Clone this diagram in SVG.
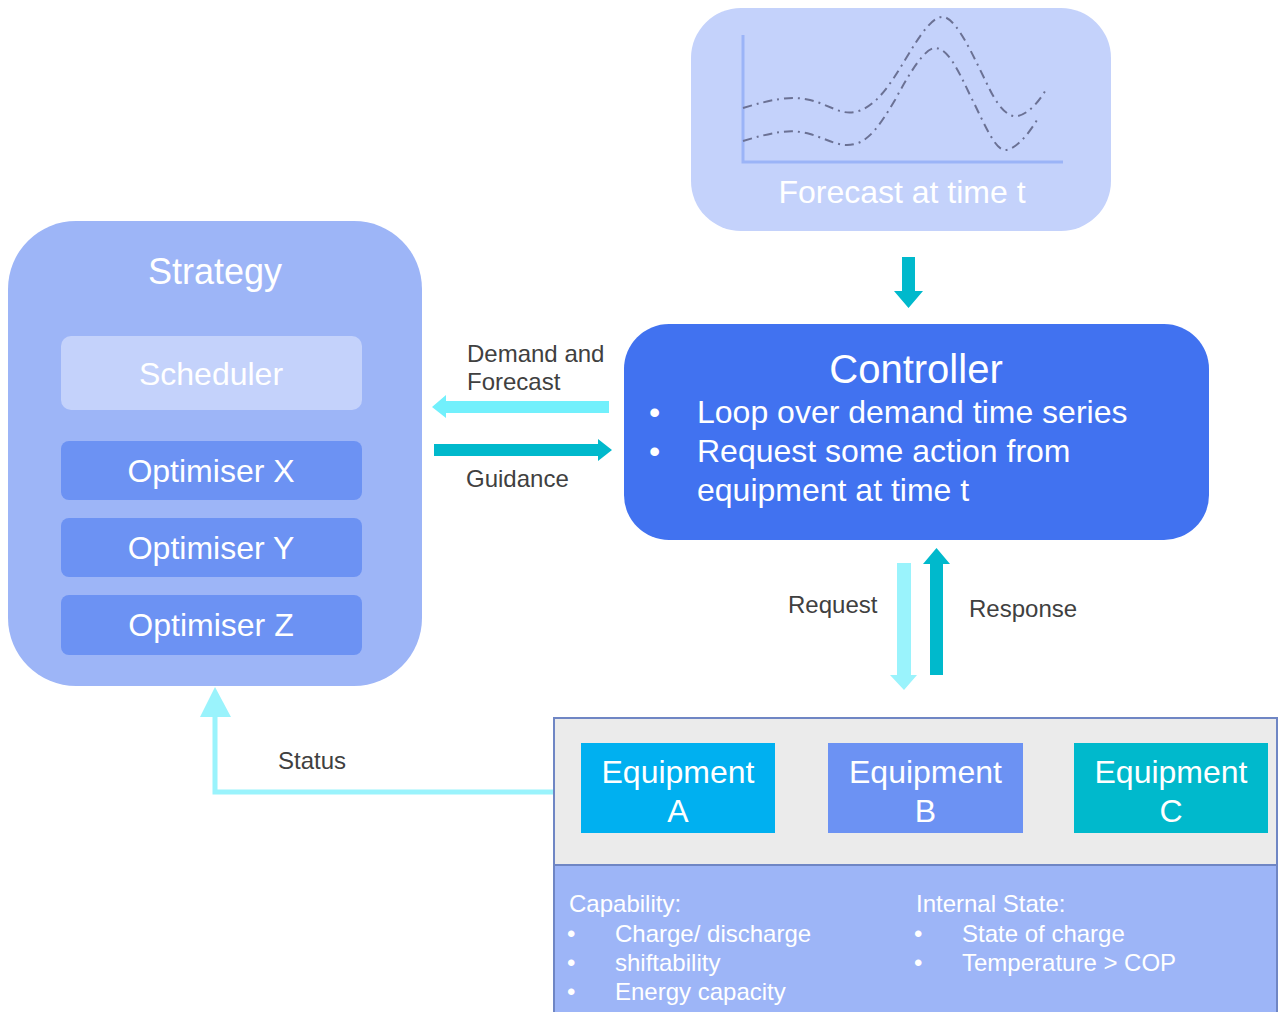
<svg xmlns="http://www.w3.org/2000/svg" width="1278" height="1012" viewBox="0 0 1278 1012">
<style>
text{font-family:"Liberation Sans",Arial,sans-serif}
.w{fill:#ffffff}
.lbl{fill:#404040;font-size:24px}
.c{text-anchor:middle}
.opt{fill:#6c92f3}
.curve{fill:none;stroke:#6b7194;stroke-width:2;stroke-dasharray:9 5 2 5}
</style>
<rect width="1278" height="1012" fill="#ffffff"/>
<g id="forecast">
<rect x="691" y="8" width="420" height="223" rx="50" fill="#c4d2fb"/>
<path d="M743,35 V162 H1063" fill="none" stroke="#9bb4f7" stroke-width="3"/>
<path class="curve" d="M743,108 C770,100 790,95 810,100 S840,115 855,112 C875,108 890,85 905,60 C920,35 933,15 944,17 C958,20 975,60 990,90 C1000,110 1010,118 1018,116 C1030,113 1040,100 1047,88"/>
<path class="curve" d="M743,141 C770,133 790,128 810,134 S840,148 855,144 C870,140 880,125 895,100 C910,72 925,48 935,48 C948,48 958,70 970,95 C985,125 995,150 1005,150 C1015,150 1028,135 1037,120"/>
<text x="902" y="203" class="w c" font-size="32">Forecast at time t</text>
</g>
<g id="strategy">
<rect x="8" y="221" width="414" height="465" rx="68" fill="#9db5f7"/>
<text x="215" y="284" class="w c" font-size="36">Strategy</text>
</g>
<g id="scheduler">
<rect x="61" y="336" width="301" height="74" rx="10" fill="#c4d2fb"/>
<text x="211" y="385" class="w c" font-size="32">Scheduler</text>
</g>
<g id="optimiser-x">
<rect x="61" y="441" width="301" height="59" rx="8" class="opt"/>
<text x="211" y="482" class="w c" font-size="32">Optimiser X</text>
</g>
<g id="optimiser-y">
<rect x="61" y="518" width="301" height="59" rx="8" class="opt"/>
<text x="211" y="559" class="w c" font-size="32">Optimiser Y</text>
</g>
<g id="optimiser-z">
<rect x="61" y="595" width="301" height="60" rx="8" class="opt"/>
<text x="211" y="636" class="w c" font-size="32">Optimiser Z</text>
</g>
<g id="controller">
<rect x="624" y="324" width="585" height="216" rx="45" fill="#4172f0"/>
<text x="916" y="383" class="w c" font-size="40">Controller</text>
<g class="w" font-size="32">
<text x="649" y="423">•</text><text x="697" y="423">Loop over demand time series</text>
<text x="649" y="462">•</text><text x="697" y="462">Request some action from</text>
<text x="697" y="501">equipment at time t</text>
</g>
</g>
<g id="equipment-group">
<rect x="554" y="718" width="723" height="147" fill="#ebebeb" stroke="#6f86c4" stroke-width="2"/>
<rect x="554" y="865" width="723" height="150" fill="#9db5f7" stroke="#6f86c4" stroke-width="2"/>
<g class="w" font-size="24">
<text x="569" y="912">Capability:</text>
<text x="567" y="942">•</text><text x="615" y="942">Charge/ discharge</text>
<text x="567" y="971">•</text><text x="615" y="971">shiftability</text>
<text x="567" y="1000">•</text><text x="615" y="1000">Energy capacity</text>
<text x="916" y="912">Internal State:</text>
<text x="914" y="942">•</text><text x="962" y="942">State of charge</text>
<text x="914" y="971">•</text><text x="962" y="971">Temperature &gt; COP</text>
</g>
</g>
<g id="equipment-a">
<rect x="581" y="743" width="194" height="90" fill="#00b0f0"/>
<text x="678" y="783" class="w c" font-size="32">Equipment</text>
<text x="678" y="822" class="w c" font-size="32">A</text>
</g>
<g id="equipment-b">
<rect x="828" y="743" width="195" height="90" fill="#6c92f3"/>
<text x="925.5" y="783" class="w c" font-size="32">Equipment</text>
<text x="925.5" y="822" class="w c" font-size="32">B</text>
</g>
<g id="equipment-c">
<rect x="1074" y="743" width="194" height="90" fill="#00b9cc"/>
<text x="1171" y="783" class="w c" font-size="32">Equipment</text>
<text x="1171" y="822" class="w c" font-size="32">C</text>
</g>
<g id="connectors">
<polygon points="915,257 915,291 923,291 908.5,308 894,291 902,291 902,257" fill="#00b9cc"/>
<polygon points="609,401 609,413 446,413 446,418 432,407 446,395 446,401" fill="#72f0fc"/>
<polygon points="434,444 598,444 598,439 612,450 598,461 598,456 434,456" fill="#00b9cc"/>
<polygon points="897,563 911,563 911,675 917,675 904,690 890,675 897,675" fill="#9af3fc"/>
<polygon points="930,675 943,675 943,564 950,564 936.5,548 923,564 930,564" fill="#00b9cc"/>
<polyline points="553,792 215,792 215,714" fill="none" stroke="#9af3fc" stroke-width="5"/>
<polygon points="215,687 231,717 200,717" fill="#9af3fc"/>
<text x="467" y="362" class="lbl">Demand and</text>
<text x="467" y="390" class="lbl">Forecast</text>
<text x="466" y="487" class="lbl">Guidance</text>
<text x="788" y="613" class="lbl">Request</text>
<text x="969" y="617" class="lbl">Response</text>
<text x="278" y="769" class="lbl">Status</text>
</g>
</svg>
